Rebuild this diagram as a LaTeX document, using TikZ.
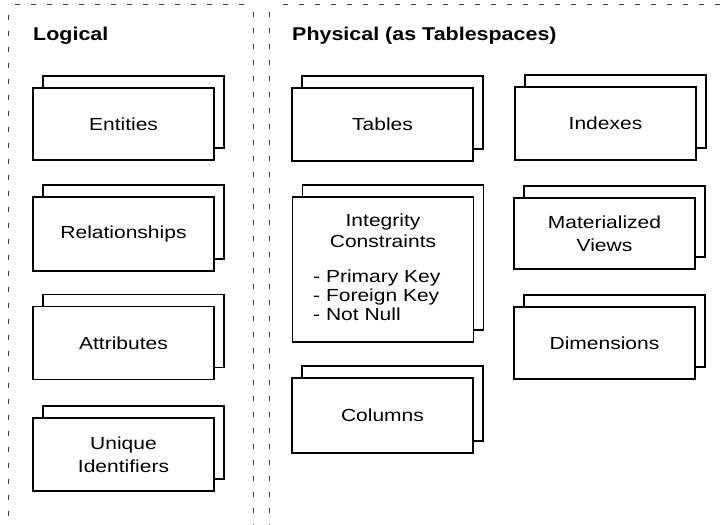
\documentclass[tikz,border=0pt]{standalone}
\usepackage{fontspec}
\setmainfont{Liberation Sans}
\newfontfamily\boxfont[FakeStretch=1.2]{Liberation Sans}
\newfontfamily\headfont[FakeStretch=1.16]{Liberation Sans}

\tikzset{
  panel/.style={draw=black!75, line width=0.8pt, dash pattern=on 5pt off 11pt},
  backsheet/.style={draw, line width=1.6pt, fill=white, minimum width=181pt, inner sep=0pt},
  frontsheet/.style={draw, line width=1.8pt, fill=white, minimum width=181pt, inner sep=0pt,
    align=center, font=\boxfont\fontsize{17.5}{23}\selectfont},
  boxtext/.style={inner sep=0pt, font=\boxfont\fontsize{17.5}{23}\selectfont},
  heading/.style={inner sep=0pt, anchor=base west, font=\headfont\bfseries\fontsize{18.5}{22}\selectfont}
}

% a sheet lying on top of a second, offset sheet
% #1 name, #2 x, #3 y, #4 height, #5 text
\newcommand\stackedsheet[5]{%
  \node (#1-back) [backsheet, minimum height=#4pt] at ({#2+10},{#3-12}) {};
  \node (#1) [frontsheet, minimum height=#4pt] at (#2,#3) {#5};
}

\begin{document}
\begin{tikzpicture}[x=1pt,y=-1pt]
  \useasboundingbox (0,0) rectangle (726,525);

  % panel borders
  \draw[panel] (15,4) -- (248,4);
  \draw[panel] (8,15) -- (8,530);
  \draw[panel] (253,12) -- (253,530);
  \draw[panel] (283,4) -- (726,4);
  \draw[panel] (269,12) -- (269,530);

  % headings
  \node[heading] (hlog) at (33,40) {Logical};
  \node[heading] (hphys) at (292,40) {Physical (as Tablespaces)};

  % logical model
  \stackedsheet{ent}{123.5}{124}{72}{Entities}
  \stackedsheet{rel}{123.5}{234}{74}{Relationships}
  \stackedsheet{att}{123.5}{343}{73}{Attributes}
  \stackedsheet{uid}{123.5}{454.5}{73}{Unique\\Identifiers}

  % physical model
  \stackedsheet{tab}{382.5}{124.5}{73}{Tables}
  \stackedsheet{ic}{383}{269.5}{145}{}
  \stackedsheet{col}{382.5}{415.5}{75}{Columns}
  \stackedsheet{idx}{605.5}{123.5}{73}{Indexes}
  \stackedsheet{mv}{604.5}{233.5}{71}{Materialized\\Views}
  \stackedsheet{dim}{604.5}{343}{72}{Dimensions}

  % integrity constraints contents
  \node[boxtext, anchor=base] (ic1) at (383,226) {Integrity};
  \node[boxtext, anchor=base] (ic2) at (383,247) {Constraints};
  \node[boxtext, anchor=base west] (ic3) at (313,282) {- Primary Key};
  \node[boxtext, anchor=base west] (ic4) at (313,301) {- Foreign Key};
  \node[boxtext, anchor=base west] (ic5) at (313,320) {- Not Null};
\end{tikzpicture}
\end{document}
